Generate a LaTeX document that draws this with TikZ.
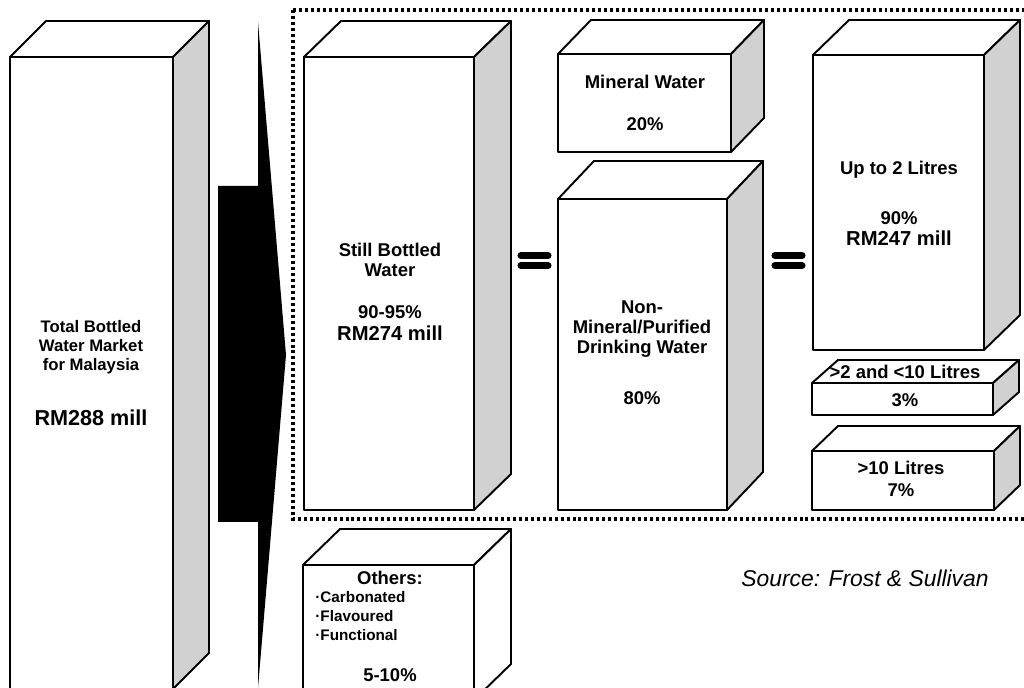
\documentclass[tikz,border=0pt]{standalone}
\usepackage{fontspec}
\setmainfont{Liberation Sans}
\usetikzlibrary{calc}

% front rectangle (x1,y1)-(x2,y2), depth (dx,dy)
\newcommand{\waterbox}[7][boxside]{%
  \filldraw[boxface] (#2,#3) rectangle (#4,#5);
  \filldraw[boxface] (#2,#3) -- ++(#6,-#7) -- ($(#4,#3)+(#6,-#7)$) -- (#4,#3) -- cycle;
  \filldraw[#1] (#4,#3) -- ++(#6,-#7) -- ($(#4,#5)+(#6,-#7)$) -- (#4,#5) -- cycle;
}

\begin{document}
\begin{tikzpicture}[x=0.02cm,y=-0.02cm,
  boxface/.style={fill=white,draw=black,line width=1.1pt,line join=round},
  boxside/.style={fill=black!18,draw=black,line width=1.1pt,line join=round},
  plainside/.style={fill=white,draw=black,line width=1.1pt,line join=round},
  dotframe/.style={draw=black,line width=1.8pt,dash pattern=on 1.7pt off 1.7pt},
  eqbar/.style={line width=4pt,line cap=round},
  lbl/.style={font=\fontsize{10.5}{11.2}\selectfont\bfseries,align=center,inner sep=0pt},
  big/.style={font=\fontsize{11.5}{13}\selectfont\bfseries,inner sep=0pt}]
  \useasboundingbox (0,0) rectangle (1024,688);

  \draw[dotframe] (293,10) rectangle (1040,519);

  \waterbox{10}{57}{173}{689}{36}{36}
  \fill (218,186) -- (258,186) -- (258,22) -- (286,355) -- (258,688) -- (258,522) -- (218,522) -- cycle;

  \waterbox{304}{57}{474}{510}{37}{36}
  \waterbox[plainside]{303}{565}{474}{700}{37}{36}
  \waterbox{558}{54}{731}{152}{33}{34}
  \waterbox{558}{199}{727}{510}{36}{38}
  \waterbox{813}{55}{984}{350}{36}{35}
  \waterbox{812}{383}{993}{415}{26}{23}
  \waterbox{812}{451}{994}{510}{26}{25}

  \draw[eqbar] (521,255.5) -- (548,255.5);
  \draw[eqbar] (521,265.5) -- (548,265.5);
  \draw[eqbar] (775,255.5) -- (802,255.5);
  \draw[eqbar] (775,265.5) -- (802,265.5);

  \node[lbl,font=\fontsize{9.5}{10.8}\selectfont\bfseries] (total) at (91,347) {Total Bottled\\Water Market\\for Malaysia};
  \node[big,font=\fontsize{12.3}{14}\selectfont\bfseries] (totalval) at (91,418) {RM288 mill};

  \node[lbl] (still) at (390,260) {Still Bottled\\Water};
  \node[lbl] (stillpc) at (390,312) {90-95\%};
  \node[big] (stillval) at (390,333) {RM274 mill};

  \node[lbl] (mineral) at (645,82) {Mineral Water};
  \node[lbl] (mineralpc) at (645,124) {20\%};

  \node[lbl] (purified) at (642,329) {Non-\\Mineral/Purified\\Drinking Water};
  \node[lbl] (purifiedpc) at (642,398) {80\%};

  \node[lbl] (small) at (899,170) {Up to 2 Litres};
  \node[lbl] (smallpc) at (899,218) {90\%};
  \node[big] (smallval) at (899,238) {RM247 mill};

  \node[lbl] (medium) at (905,372) {>2 and <10 Litres};
  \node[lbl] (mediumpc) at (905,400) {3\%};

  \node[lbl] (large) at (901,468) {>10 Litres};
  \node[lbl] (largepc) at (901,490) {7\%};

  \node[lbl] (others) at (390,578) {Others:};
  \node[lbl,anchor=west,align=left,font=\fontsize{8.7}{10.8}\selectfont\bfseries] (otherlist) at (315,616) {·Carbonated\\·Flavoured\\·Functional};
  \node[lbl] (otherspc) at (390,675) {5-10\%};

  \node[font=\fontsize{13}{15}\selectfont\itshape,inner sep=0pt] (source) at (865,578) {Source: Frost \& Sullivan};
\end{tikzpicture}
\end{document}
